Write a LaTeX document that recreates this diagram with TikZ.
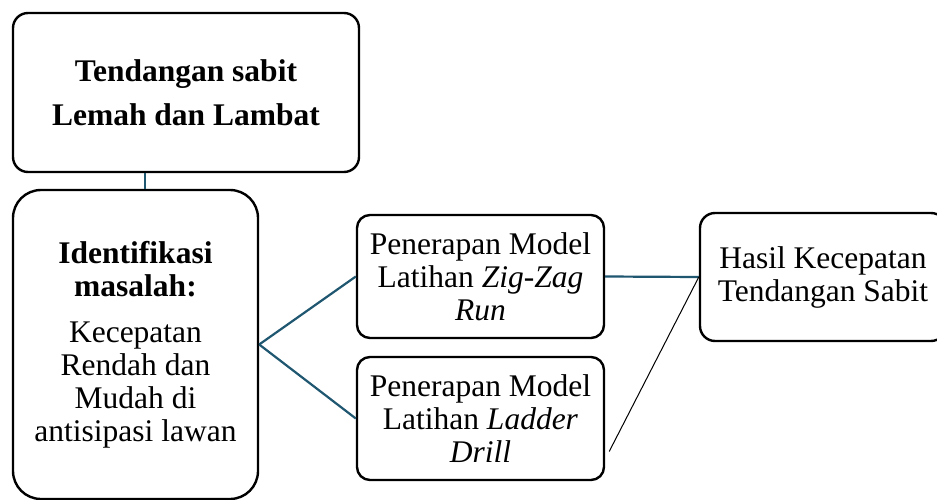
\documentclass[tikz,border=0pt]{standalone}
\usepackage{fontspec}
\setmainfont{Liberation Serif}
\definecolor{linkc}{RGB}{31,86,112}
\tikzset{
  box/.style={draw=black, line width=2.4pt, rounded corners=15pt, align=center, inner sep=0pt,
    font=\fontsize{31.5}{33}\selectfont},
  link/.style={draw=linkc, line width=2.2pt},
  thin/.style={draw=black, line width=1pt},
}
\begin{document}
\begin{tikzpicture}[x=1pt,y=-1pt]
\useasboundingbox (0,0) rectangle (937,500);
\node[box, minimum width=346pt, minimum height=159pt] (top) at (186,92.5)
  {\bfseries Tendangan sabit\\[11pt]\bfseries Lemah dan Lambat};
\node[box, rounded corners=28pt, minimum width=245pt, minimum height=309pt] (ident) at (135.5,344.5)
  {\textbf{Identifikasi}\\\textbf{masalah:}\\[13pt]Kecepatan\\Rendah dan\\Mudah di\\antisipasi lawan};
\node[box, rounded corners=13pt, minimum width=247pt, minimum height=123pt] (zig) at (480.5,276.5)
  {Penerapan Model\\Latihan \textit{Zig-Zag}\\\textit{Run}};
\node[box, rounded corners=13pt, minimum width=247pt, minimum height=123pt] (lad) at (480.5,418.5)
  {Penerapan Model\\Latihan \textit{Ladder}\\\textit{Drill}};
\node[box, minimum width=246pt, minimum height=128pt] (hasil) at (823,277)
  {Hasil Kecepatan\\Tendangan Sabit};
\coordinate (connx) at (145,0);
\coordinate (ladout) at ([xshift=4pt,yshift=-33pt]lad.east);
\draw[link, line width=1.3pt] (top.south -| connx) -- (ident.north -| connx);
\draw[link] (ident.east) -- (zig.west);
\draw[link] (ident.east) -- (lad.west);
\draw[link] (zig.east) -- (hasil.west);
\draw[thin] (ladout) -- (hasil.west);
\end{tikzpicture}
\end{document}
